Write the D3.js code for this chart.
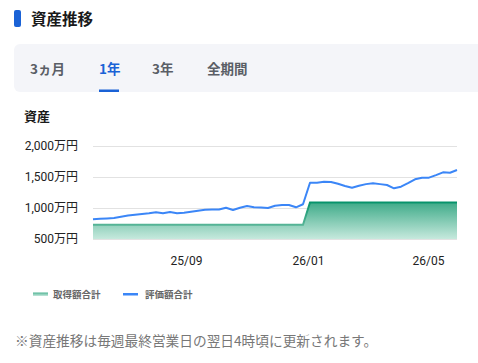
<!DOCTYPE html>
<html>
<head>
<meta charset="utf-8">
<script src="https://cdn.jsdelivr.net/npm/d3@7"></script>
<style>
  body { margin: 0; background: #fff; }
  svg { display: block; font-family: "Noto Sans CJK JP", "Noto Sans", sans-serif; }
</style>
</head>
<body>
<svg id="chart"></svg>
<script>
(function() {

// weekly values (万円), first week 2025-05-31
const startDate = new Date(2025, 4, 31);
const marketValues = [
  817, 825, 832, 840, 860, 878, 893, 905, 915, 932,
  914, 935, 914, 925, 940, 955, 970, 975, 975, 1005,
  968, 1005, 1032, 1011, 1010, 1000, 1037, 1048, 1048, 1011,
  1060, 1408, 1408, 1424, 1419, 1390, 1355, 1328, 1360, 1385,
  1398, 1385, 1371, 1318, 1344, 1400, 1463, 1489, 1489, 1530,
  1575, 1569, 1613
];
const costValues = marketValues.map((d, i) => i <= 30 ? 730 : 1090);
const yTicks = [500, 1000, 1500, 2000];
const xTicks = [new Date(2025, 8, 1), new Date(2026, 0, 1), new Date(2026, 4, 1)];
const tabs = ["3ヵ月", "1年", "3年", "全期間"];
const tabX = [30, 99, 152, 207];
const legendItems = ["取得額合計", "評価額合計"];

const W = 478, H = 363;
const margin = { top: 146, right: 21, bottom: 124, left: 93 };
const width = W - margin.left - margin.right;
const height = H - margin.top - margin.bottom;

const svg = d3.select("#chart").attr("width", W).attr("height", H);

const dates = marketValues.map((d, i) => d3.timeDay.offset(startDate, i * 7));

// header
svg.append("rect").attr("x", 14).attr("y", 10).attr("width", 7).attr("height", 17)
    .attr("rx", 2).attr("fill", "#1a62d6");
svg.append("text").attr("x", 31).attr("y", 24.5).text("資産推移")
    .attr("font-size", "15.5px").attr("font-weight", "bold").attr("fill", "#1a1a1a");

// tabs
svg.append("rect").attr("x", 14).attr("y", 44).attr("width", 480).attr("height", 48)
    .attr("rx", 6).attr("fill", "#f4f5f9");
svg.selectAll(".tab")
    .data(tabs)
    .enter().append("text")
    .attr("class", "tab")
    .attr("x", (d, i) => tabX[i])
    .attr("y", 74)
    .attr("font-size", "13.5px")
    .attr("font-weight", "bold")
    .attr("fill", (d, i) => i === 1 ? "#1a62d6" : "#5a5e66")
    .text(d => d);
svg.append("rect").attr("x", 99).attr("y", 89.5).attr("width", 20).attr("height", 2.5)
    .attr("fill", "#1a62d6");

svg.append("text").attr("x", 24).attr("y", 121).text("資産")
    .attr("font-size", "13px").attr("font-weight", "bold").attr("fill", "#1a1a1a");

const g = svg.append("g").attr("transform", `translate(${margin.left},${margin.top})`);

const x = d3.scaleTime().domain(d3.extent(dates)).range([0, width]);
const y = d3.scaleLinear().domain([500, 2000]).range([height, 0]);

// gradient for the cost area
const defs = svg.append("defs");
const grad = defs.append("linearGradient").attr("id", "costGrad")
    .attr("x1", 0).attr("y1", 0).attr("x2", 0).attr("y2", 1);
grad.append("stop").attr("offset", "0%").attr("stop-color", "#3fab89");
grad.append("stop").attr("offset", "100%").attr("stop-color", "#c6e9dd");
const gradLine = defs.append("linearGradient").attr("id", "costLineGrad")
    .attr("gradientUnits", "userSpaceOnUse")
    .attr("x1", 0).attr("y1", y(1090)).attr("x2", 0).attr("y2", y(730));
gradLine.append("stop").attr("offset", "0%").attr("stop-color", "#07936b");
gradLine.append("stop").attr("offset", "100%").attr("stop-color", "#55b496");
const legGrad = defs.append("linearGradient").attr("id", "legGrad")
    .attr("x1", 0).attr("y1", 0).attr("x2", 0).attr("y2", 1);
legGrad.append("stop").attr("offset", "0%").attr("stop-color", "#4fb393");
legGrad.append("stop").attr("offset", "100%").attr("stop-color", "#c6e9dd");

// grid + y labels
g.append("g")
    .call(d3.axisLeft(y).tickValues(yTicks).tickSize(-width).tickPadding(15)
        .tickFormat(d => d3.format(",")(d) + "万円"))
    .call(a => a.select(".domain").remove())
    .call(a => a.selectAll(".tick line").attr("stroke", "#e2e2e2"))
    .call(a => a.selectAll(".tick text").attr("fill", "#222").attr("font-size", "12px")
        .attr("font-family", "Roboto, 'Noto Sans CJK JP', sans-serif"));

// x labels
g.append("g")
    .attr("transform", `translate(0,${height})`)
    .call(d3.axisBottom(x).tickValues(xTicks).tickSize(0).tickPadding(17)
        .tickFormat(d3.timeFormat("%y/%m")))
    .call(a => a.select(".domain").remove())
    .call(a => a.selectAll(".tick text").attr("fill", "#222").attr("font-size", "12px")
        .attr("font-family", "Roboto, 'Noto Sans CJK JP', sans-serif"));

// cost area
g.append("path")
    .datum(costValues)
    .attr("fill", "url(#costGrad)")
    .attr("d", d3.area().x((d, i) => x(dates[i])).y0(height).y1(d => y(d)));
g.append("path")
    .datum(costValues)
    .attr("fill", "none")
    .attr("stroke", "url(#costLineGrad)")
    .attr("stroke-width", 2)
    .attr("d", d3.line().x((d, i) => x(dates[i])).y(d => y(d)));

// market value line
g.append("path")
    .datum(marketValues)
    .attr("fill", "none")
    .attr("stroke", "#3b86f7")
    .attr("stroke-width", 2)
    .attr("stroke-linejoin", "round")
    .attr("d", d3.line().x((d, i) => x(dates[i])).y(d => y(d)));

// legend
const leg = svg.append("g").attr("transform", "translate(33,294)");
leg.append("rect").attr("x", 0).attr("y", -1.5).attr("width", 15).attr("height", 3.5).attr("fill", "url(#legGrad)");
leg.append("rect").attr("x", 90).attr("y", -1).attr("width", 15).attr("height", 2.5).attr("fill", "#3b86f7");
leg.selectAll(".leg")
    .data(legendItems)
    .enter().append("text")
    .attr("x", (d, i) => i === 0 ? 20 : 112)
    .attr("y", 3.5)
    .attr("font-size", "9.5px")
    .attr("font-weight", "bold")
    .attr("fill", "#666")
    .text(d => d);

svg.append("text").attr("x", 15).attr("y", 346)
    .text("※資産推移は毎週最終営業日の翌日4時頃に更新されます。")
    .attr("font-size", "13.7px").attr("fill", "#777");

})();
</script>
</body>
</html>
